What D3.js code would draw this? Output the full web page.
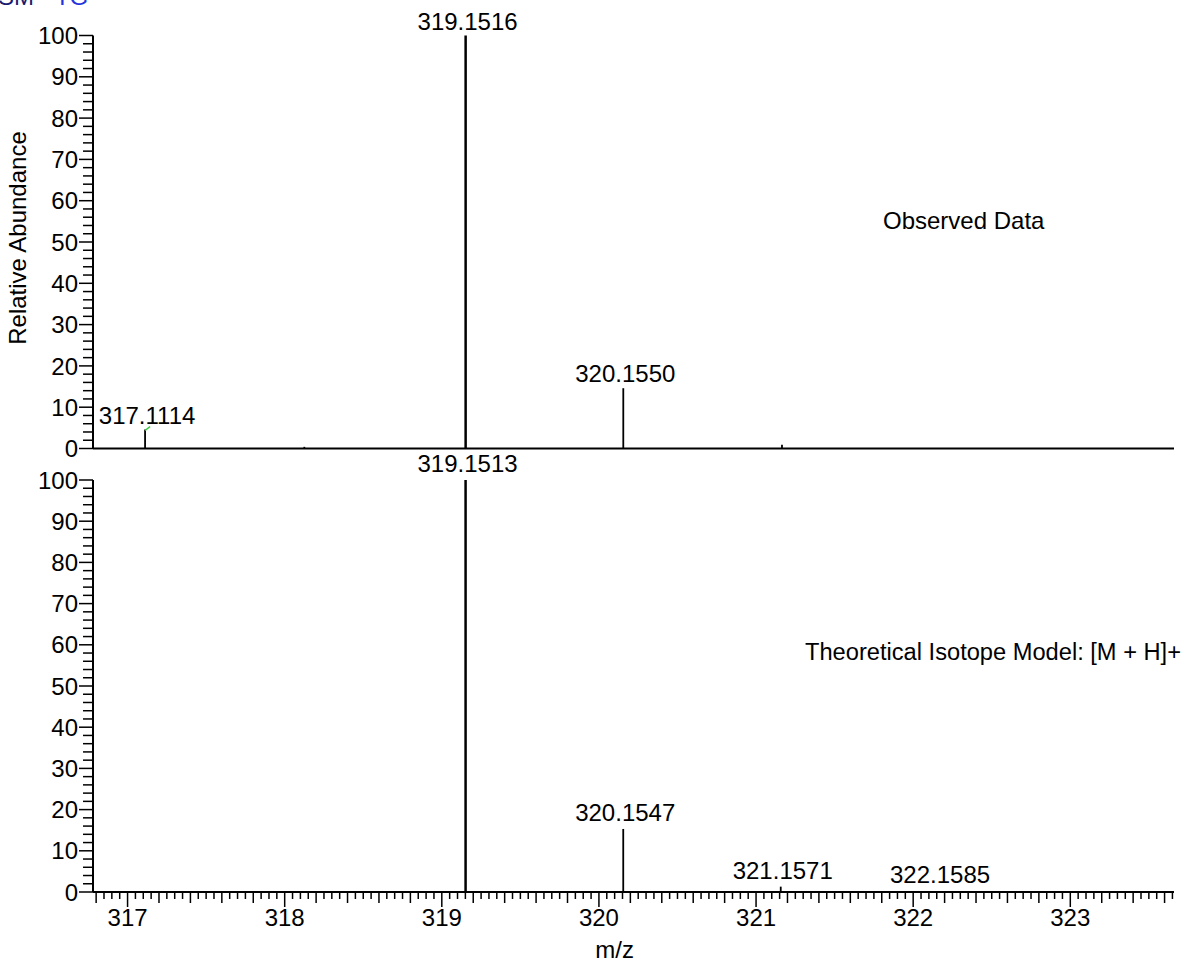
<!DOCTYPE html>
<html><head><meta charset="utf-8">
<script src="https://cdn.jsdelivr.net/npm/d3@7"></script>
<style>body{margin:0;background:#fff}svg text{font-family:"Liberation Sans",Arial,sans-serif}</style>
</head><body>
<svg id="c" width="1192" height="968"></svg>
<script>
// Observed spectrum (m/z, relative abundance)
const observedMz = [317.1114, 318.125, 319.1516, 320.1550, 321.165];
const observedAb = [4.6, 0.4, 100, 14.6, 0.9];
const observedLabels = ["317.1114", null, "319.1516", "320.1550", null];
// Theoretical isotope model
const theoMz = [319.1513, 320.1547, 321.1571, 322.1585];
const theoAb = [100, 15.3, 1.3, 0.2];
const theoLabels = ["319.1513", "320.1547", "321.1571", "322.1585"];
const xDomain = [316.78, 323.66];
const xTickLabels = [317, 318, 319, 320, 321, 322, 323];
const yTickLabels = [0, 10, 20, 30, 40, 50, 60, 70, 80, 90, 100];

const svg = d3.select("#c");
const FS = 24;
const x = d3.scaleLinear().domain(xDomain).range([93, 1174]);
const yTop = d3.scaleLinear().domain([0, 100]).range([448.5, 35.5]);
const yBot = d3.scaleLinear().domain([0, 100]).range([892, 480]);

// title (cut off at top edge, as in the reference)
const t = svg.append("text").attr("x", -2).attr("y", 5).attr("font-size", FS);
t.append("tspan").attr("fill", "#1a1a6e").text("SM - ");
t.append("tspan").attr("fill", "#2233dd").text("TG");

function yAxis(y) {
  const g = svg.append("g").attr("transform", `translate(${x.range()[0]},0)`);
  g.append("line").attr("x1", 0).attr("x2", 0).attr("y1", y(0)).attr("y2", y(100))
    .attr("stroke", "#000").attr("stroke-width", 2);
  const minor = d3.range(0, 101, 2).filter(v => v % 10 !== 0);
  g.selectAll(".mn").data(minor).join("line")
    .attr("x1", -10).attr("x2", 0).attr("y1", d => y(d)).attr("y2", d => y(d))
    .attr("stroke", "#000").attr("stroke-width", 1.5);
  g.selectAll(".mj").data(yTickLabels).join("line")
    .attr("x1", -14).attr("x2", 0).attr("y1", d => y(d)).attr("y2", d => y(d))
    .attr("stroke", "#000").attr("stroke-width", 1.5);
  g.selectAll(".lb").data(yTickLabels).join("text")
    .attr("x", -15).attr("y", d => y(d)).attr("dy", "0.36em")
    .attr("text-anchor", "end").attr("font-size", FS).text(d => d);
}
yAxis(yTop);
yAxis(yBot);

// baselines
[yTop, yBot].forEach(y => {
  svg.append("line").attr("x1", x.range()[0]).attr("x2", x.range()[1])
    .attr("y1", y(0)).attr("y2", y(0)).attr("stroke", "#000").attr("stroke-width", 2);
});

// bottom x axis ticks
const ax = svg.append("g").attr("transform", `translate(0,${yBot(0)})`);
const minorX = d3.range(0, Math.round((xDomain[1] - 316.8) / 0.05) + 1).map(i => +(316.8 + i * 0.05).toFixed(2));
ax.selectAll(".t").data(minorX).join("line")
  .attr("x1", d => x(d)).attr("x2", d => x(d)).attr("y1", 0)
  .attr("y2", d => {
    const k = Math.round(d * 100);
    if (k % 100 === 0) return 15;
    if (Math.round(k - 31680) % 20 === 0) return 11;
    return 7;
  })
  .attr("stroke", "#000").attr("stroke-width", 1.5);
ax.selectAll(".l").data(xTickLabels).join("text")
  .attr("x", d => x(d)).attr("y", 34).attr("text-anchor", "middle")
  .attr("font-size", FS).text(d => d);

// peaks
function peaks(mz, ab, labels, y, labelOffset) {
  const data = mz.map((m, i) => ({ m, a: ab[i], l: labels[i] }));
  svg.selectAll(null).data(data).join("line")
    .attr("x1", d => x(d.m)).attr("x2", d => x(d.m))
    .attr("y1", y(0)).attr("y2", d => y(d.a))
    .attr("stroke", "#000").attr("stroke-width", d => d.a > 50 ? 2.5 : 1.8);
  svg.selectAll(null).data(data.filter(d => d.l)).join("text")
    .attr("x", d => x(d.m) + 2).attr("y", d => y(d.a) + labelOffset(d))
    .attr("text-anchor", "middle").attr("font-size", FS).text(d => d.l);
}
peaks(observedMz, observedAb, observedLabels, yTop, d => -6);
peaks(theoMz, theoAb, theoLabels, yBot, d => -8);

// little green marker on top of 317.1114 peak
svg.append("line")
  .attr("x1", x(observedMz[0])).attr("y1", yTop(observedAb[0]) + 1)
  .attr("x2", x(observedMz[0]) + 5).attr("y2", yTop(observedAb[0]) - 3)
  .attr("stroke", "#3c3").attr("stroke-width", 1.5);

// annotations
svg.append("text").attr("x", 883).attr("y", 229).attr("font-size", 24).text("Observed Data");
svg.append("text").attr("x", 805).attr("y", 660).attr("font-size", 23)
  .attr("textLength", 376).attr("lengthAdjust", "spacingAndGlyphs")
  .text("Theoretical Isotope Model: [M + H]+");
svg.append("text").attr("x", x(320.1)).attr("y", 958).attr("text-anchor", "middle")
  .attr("font-size", FS).text("m/z");
svg.append("text").attr("transform", "translate(26,238) rotate(-90)")
  .attr("text-anchor", "middle").attr("font-size", 24).text("Relative Abundance");
</script>
</body></html>
